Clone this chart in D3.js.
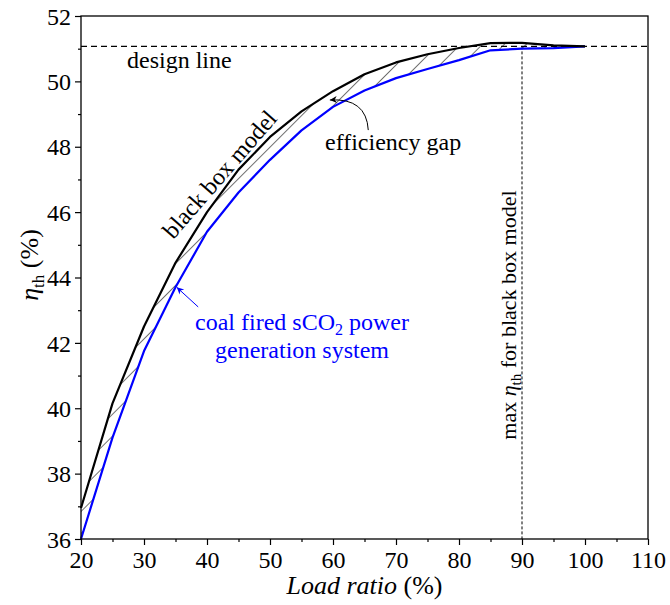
<!DOCTYPE html>
<html>
<head>
<meta charset="utf-8">
<script src="https://cdn.jsdelivr.net/npm/d3@7/dist/d3.min.js"></script>
</head>
<body style="margin:0">
<svg id="chart" width="670" height="605"></svg>
<script>
// Load ratio (%) at each operating point
const loadRatio = [20, 25, 30, 35, 40, 45, 50, 55, 60, 65, 70, 75, 80, 85, 90, 95, 100];
// Thermal efficiency (%) of the black box model
const blackBox = [36.95, 40.15, 42.5, 44.45, 46.0, 47.3, 48.3, 49.08, 49.7, 50.22, 50.58, 50.83, 51.02, 51.17, 51.18, 51.1, 51.07];
// Thermal efficiency (%) of the coal fired sCO2 power generation system
const coalFired = [36.0, 39.1, 41.75, 43.7, 45.4, 46.6, 47.6, 48.5, 49.22, 49.72, 50.1, 50.38, 50.65, 50.95, 51.0, 51.02, 51.07];

const xTicks = [20, 30, 40, 50, 60, 70, 80, 90, 100, 110];
const yTicks = [36, 38, 40, 42, 44, 46, 48, 50, 52];
const designEfficiency = 51.07;   // design-point efficiency
const maxLoad = 90;               // load of max efficiency, black box model

const FONT = "'Liberation Serif'";
const svg = d3.select("#chart");
const plot = { left: 81, right: 648, top: 16, bottom: 539 };

const xScale = d3.scaleLinear().domain([20, 110]).range([plot.left, plot.right]);
const yScale = d3.scaleLinear().domain([36, 52]).range([plot.bottom, plot.top]);

const pts = loadRatio.map((l, i) => ({ l, b: blackBox[i], c: coalFired[i] }));

function label(sel, size) {
  return sel.attr("font-family", "Liberation Serif")
    .style("font-family", FONT).style("font-size", size + "px");
}

// hatch pattern for the efficiency gap
const defs = svg.append("defs");
const hatch = defs.append("pattern")
  .attr("id", "hatch")
  .attr("patternUnits", "userSpaceOnUse")
  .attr("width", 15.5).attr("height", 15.5)
  .attr("patternTransform", "rotate(45)");
hatch.append("line")
  .attr("x1", 0).attr("y1", 0).attr("x2", 0).attr("y2", 15.5)
  .attr("stroke", "#000").attr("stroke-width", 1.1);

function arrowMarker(id, color) {
  defs.append("marker")
    .attr("id", id)
    .attr("viewBox", "0 -5 10 10")
    .attr("refX", 10).attr("refY", 0)
    .attr("markerUnits", "userSpaceOnUse")
    .attr("markerWidth", 9).attr("markerHeight", 7)
    .attr("orient", "auto")
    .append("path")
    .attr("d", "M0,-5L10,0L0,5L3,0Z")
    .attr("fill", color);
}
arrowMarker("arrowBlack", "#000");
arrowMarker("arrowBlue", "#0000ff");

// gap between the two curves
svg.append("path")
  .datum(pts)
  .attr("d", d3.area().x(d => xScale(d.l)).y0(d => yScale(d.c)).y1(d => yScale(d.b)))
  .attr("fill", "url(#hatch)")
  .attr("stroke", "none");

// design line
svg.append("line")
  .attr("x1", xScale(20)).attr("x2", xScale(110))
  .attr("y1", yScale(designEfficiency)).attr("y2", yScale(designEfficiency))
  .attr("stroke", "#000").attr("stroke-width", 1.2)
  .attr("stroke-dasharray", "6,4");

// max efficiency marker line
svg.append("line")
  .attr("x1", xScale(maxLoad)).attr("x2", xScale(maxLoad))
  .attr("y1", yScale(designEfficiency)).attr("y2", yScale(36))
  .attr("stroke", "#000").attr("stroke-width", 1)
  .attr("stroke-dasharray", "3,2");

// curves
const curve = key => d3.line().x(d => xScale(d.l)).y(d => yScale(d[key]));
svg.append("path").datum(pts).attr("d", curve("c"))
  .attr("fill", "none").attr("stroke", "#0000ff").attr("stroke-width", 2.2)
  .attr("stroke-linejoin", "round");
svg.append("path").datum(pts).attr("d", curve("b"))
  .attr("fill", "none").attr("stroke", "#000").attr("stroke-width", 2.2)
  .attr("stroke-linejoin", "round");

// axes
const xAxis = svg.append("g").attr("transform", `translate(0,${plot.bottom})`)
  .call(d3.axisBottom(xScale).tickValues(xTicks).tickSize(6).tickPadding(4).tickFormat(d3.format("d")));
const xMinor = svg.append("g").attr("transform", `translate(0,${plot.bottom})`)
  .call(d3.axisBottom(xScale).tickValues(d3.range(25, 110, 10)).tickSize(3).tickFormat(""));
const yAxis = svg.append("g").attr("transform", `translate(${plot.left},0)`)
  .call(d3.axisLeft(yScale).tickValues(yTicks).tickSize(6).tickPadding(4).tickFormat(d3.format("d")));
const yMinor = svg.append("g").attr("transform", `translate(${plot.left},0)`)
  .call(d3.axisLeft(yScale).tickValues(d3.range(37, 52, 2)).tickSize(3).tickFormat(""));

[xAxis, xMinor, yAxis, yMinor].forEach(g => {
  g.attr("font-family", "Liberation Serif").attr("font-size", 24);
  g.select(".domain").remove();
  g.selectAll(".tick line").attr("stroke", "#000").attr("stroke-width", 1.2);
  label(g.selectAll(".tick text").attr("fill", "#000"), 24);
});
xAxis.selectAll(".tick text").attr("dy", "0.8em");
yAxis.selectAll(".tick text").attr("dy", "0.34em");

// frame
svg.append("rect")
  .attr("x", plot.left).attr("y", plot.top)
  .attr("width", plot.right - plot.left).attr("height", plot.bottom - plot.top)
  .attr("fill", "none").attr("stroke", "#000").attr("stroke-width", 1.3);

// axis titles
const xt = label(svg.append("text"), 26)
  .attr("x", (plot.left + plot.right) / 2).attr("y", 594)
  .attr("text-anchor", "middle");
xt.append("tspan").style("font-style", "italic").text("Load ratio");
xt.append("tspan").text(" (%)");

const yt = label(svg.append("text"), 26)
  .attr("transform", "translate(38,265) rotate(-90)")
  .attr("text-anchor", "middle");
yt.append("tspan").style("font-style", "italic").text("η");
yt.append("tspan").attr("dy", 6).style("font-size", "17px").text("th");
yt.append("tspan").attr("dy", -6).text(" (%)");

// annotations
label(svg.append("text"), 24)
  .attr("x", xScale(27.3)).attr("y", yScale(50.41))
  .text("design line");

label(svg.append("text"), 24)
  .attr("transform", `translate(${xScale(34.65)},${yScale(45.15)}) rotate(-49)`)
  .text("black box model");

label(svg.append("text"), 24)
  .attr("x", xScale(58.73)).attr("y", yScale(47.9))
  .text("efficiency gap");

const gapArrow = d3.path();
gapArrow.moveTo(xScale(65.6), yScale(48.51));
gapArrow.quadraticCurveTo(xScale(65.3), yScale(49.5), xScale(59.5), yScale(49.43));
svg.append("path")
  .attr("d", gapArrow.toString())
  .attr("fill", "none").attr("stroke", "#000").attr("stroke-width", 1)
  .attr("marker-end", "url(#arrowBlack)");

const blueLabel = label(svg.append("text"), 24)
  .attr("text-anchor", "middle").attr("fill", "#0000ff");
const l1 = blueLabel.append("tspan").attr("x", xScale(55.08)).attr("y", yScale(42.39));
l1.append("tspan").text("coal fired sCO");
l1.append("tspan").attr("dy", 5).style("font-size", "16px").text("2");
l1.append("tspan").attr("dy", -5).text(" power");
blueLabel.append("tspan").attr("x", xScale(55.08)).attr("y", yScale(41.54)).text("generation system");

svg.append("line")
  .attr("x1", xScale(38.6)).attr("y1", yScale(43.1))
  .attr("x2", xScale(35.2)).attr("y2", yScale(43.7))
  .attr("stroke", "#0000ff").attr("stroke-width", 1)
  .attr("marker-end", "url(#arrowBlue)");

const maxLabel = label(svg.append("text"), 22)
  .attr("transform", `translate(${xScale(89.05)},${yScale(42.85)}) rotate(-90)`)
  .attr("text-anchor", "middle");
maxLabel.append("tspan").text("max ");
maxLabel.append("tspan").style("font-style", "italic").text("η");
maxLabel.append("tspan").attr("dy", 5).style("font-size", "15px").text("th");
maxLabel.append("tspan").attr("dy", -5).text(" for black box model");
</script>
</body>
</html>
